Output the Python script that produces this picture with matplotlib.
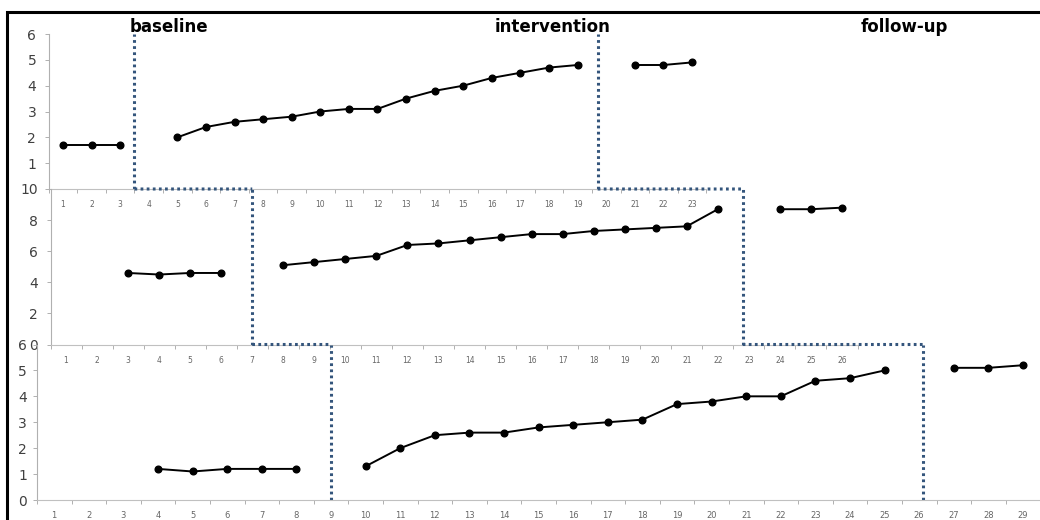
import numpy as np
import matplotlib
matplotlib.use("Agg")
import matplotlib.pyplot as plt
from matplotlib.patches import ConnectionPatch, Rectangle

# panel 1 (top)
p1_base_x = [1, 2, 3]
p1_base_y = [1.7, 1.7, 1.7]
p1_int_x = list(range(5, 20))
p1_int_y = [2.0, 2.4, 2.6, 2.7, 2.8, 3.0, 3.1, 3.1, 3.5, 3.8, 4.0, 4.3, 4.5, 4.7, 4.8]
p1_fu_x = [21, 22, 23]
p1_fu_y = [4.8, 4.8, 4.9]

# panel 2 (middle)
p2_base_x = [3, 4, 5, 6]
p2_base_y = [4.6, 4.5, 4.6, 4.6]
p2_int_x = list(range(8, 23))
p2_int_y = [5.1, 5.3, 5.5, 5.7, 6.4, 6.5, 6.7, 6.9, 7.1, 7.1, 7.3, 7.4, 7.5, 7.6, 8.7]
p2_fu_x = [24, 25, 26]
p2_fu_y = [8.7, 8.7, 8.8]

# panel 3 (bottom)
p3_base_x = [4, 5, 6, 7, 8]
p3_base_y = [1.2, 1.1, 1.2, 1.2, 1.2]
p3_int_x = list(range(10, 26))
p3_int_y = [1.3, 2.0, 2.5, 2.6, 2.6, 2.8, 2.9, 3.0, 3.1, 3.7, 3.8, 4.0, 4.0, 4.6, 4.7, 5.0]
p3_fu_x = [27, 28, 29]
p3_fu_y = [5.1, 5.1, 5.2]

n_sessions = [23, 26, 29]
y_max = [6, 10, 6]
y_step = [1, 2, 1]
# phase change positions (session units) per panel
phase1 = [3.5, 7.0, 9.0]
phase2 = [19.7, 22.8, 26.1]
titles = ["baseline", "intervention", "follow-up"]
title_x = [169, 553, 904]

W, H = 1040, 520
fig = plt.figure(figsize=(10.4, 5.2), dpi=100)

# pixel boxes: left, right, top, bottom
boxes = [(48.7, 706.3, 34, 189), (50.5, 857.5, 189, 344.5), (36.9, 1040.3, 344.5, 500)]

axes = []
for i, (l, r, t, b) in enumerate(boxes):
    ax = fig.add_axes([l / W, 1 - b / H, (r - l) / W, (b - t) / H])
    ax.set_facecolor("none")
    ax.set_xlim(0.5, n_sessions[i] + 0.5)
    ax.set_ylim(0, y_max[i])
    for s in ["top", "right"]:
        ax.spines[s].set_visible(False)
    ax.spines["left"].set_color("#b0b0b0")
    ax.spines["bottom"].set_color("#c0c0c0")
    ax.spines["left"].set_linewidth(0.8)
    ax.spines["bottom"].set_linewidth(0.8)
    ax.set_xticks(np.arange(1, n_sessions[i] + 1))
    ax.set_xticks(np.arange(0.5, n_sessions[i] + 1), minor=True)
    ax.tick_params(axis="x", which="major", length=0, pad=8,
                   labelsize=5.5 if i < 2 else 6, labelcolor="#666666")
    ax.tick_params(axis="x", which="minor", length=3, width=0.7, color="#b0b0b0")
    yt = np.arange(0, y_max[i] + 1, y_step[i])
    ax.set_yticks(yt)
    labels = [str(v) for v in yt]
    if i == 0:
        labels[0] = ""
    ax.set_yticklabels(labels)
    ax.tick_params(axis="y", length=3, width=0.7, color="#b0b0b0",
                   labelsize=10, labelcolor="#404040", pad=6 if i < 2 else 4)
    axes.append(ax)

series = [
    [(p1_base_x, p1_base_y), (p1_int_x, p1_int_y), (p1_fu_x, p1_fu_y)],
    [(p2_base_x, p2_base_y), (p2_int_x, p2_int_y), (p2_fu_x, p2_fu_y)],
    [(p3_base_x, p3_base_y), (p3_int_x, p3_int_y), (p3_fu_x, p3_fu_y)],
]
for ax, segs in zip(axes, series):
    for xs, ys in segs:
        ax.plot(xs, ys, color="black", lw=1.4, marker="o", ms=4.8,
                clip_on=False, zorder=5)

dot_col = "#34557c"
dot_style = (0, (0.9, 1.1))
for ax, a, b in zip(axes, phase1, phase2):
    top = ax.get_ylim()[1]
    for px in (a, b):
        ax.plot([px, px], [0, top], clip_on=False, color=dot_col, lw=2.2,
                linestyle=dot_style, dash_capstyle="butt")

# connectors between panels
for ph in (phase1, phase2):
    for k in range(2):
        con = ConnectionPatch(xyA=(ph[k], 0), coordsA=axes[k].transData,
                              xyB=(ph[k + 1], axes[k + 1].get_ylim()[1]),
                              coordsB=axes[k + 1].transData,
                              arrowstyle="-", color=dot_col, lw=2.2,
                              linestyle=dot_style, capstyle="butt")
        fig.add_artist(con)

for t, x in zip(titles, title_x):
    fig.text(x / W, 1 - 27 / H, t, ha="center", va="center",
             fontsize=12, fontweight="bold", color="black")

# outer frame
fig.add_artist(Rectangle((7 / W, -0.05), 1.0, 1 - 12 / H + 0.05, transform=fig.transFigure,
                         fill=False, edgecolor="black", lw=2.2))

fig.savefig("out.png", dpi=100)
